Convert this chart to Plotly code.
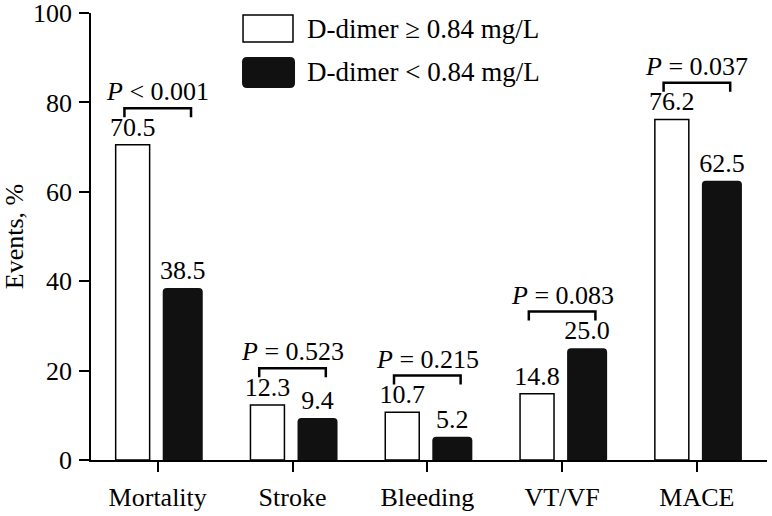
import plotly.graph_objects as go

categories = ["Mortality", "Stroke", "Bleeding", "VT/VF", "MACE"]
high_name = "D-dimer ≥ 0.84 mg/L"
low_name = "D-dimer &lt; 0.84 mg/L"
high_values = [70.5, 12.3, 10.7, 14.8, 76.2]
low_values = [38.5, 9.4, 5.2, 25.0, 62.5]
p_labels = ["<i>P</i> &lt; 0.001", "<i>P</i> = 0.523", "<i>P</i> = 0.215",
            "<i>P</i> = 0.083", "<i>P</i> = 0.037"]
y_ticks = [0, 20, 40, 60, 80, 100]

FONT = "Liberation Serif, Times New Roman, serif"
idx = list(range(len(categories)))

fig = go.Figure()
fig.add_trace(go.Bar(
    x=idx, y=high_values, width=0.252, offset=-0.312,
    marker=dict(color="white", line=dict(color="black", width=1.5)),
    text=[f"{v:.1f}" for v in high_values], textposition="outside",
    textfont=dict(family=FONT, size=26, color="black"),
    constraintext="none", cliponaxis=False, showlegend=False, name=high_name))
fig.add_trace(go.Bar(
    x=idx, y=low_values, width=0.297, offset=0.037,
    marker=dict(color="#111111", line=dict(color="#111111", width=0), cornerradius=4),
    text=[f"{v:.1f}" for v in low_values], textposition="outside",
    textfont=dict(family=FONT, size=26, color="black"),
    constraintext="none", cliponaxis=False, showlegend=False, name=low_name))

# significance brackets
for i in idx:
    top = max(high_values[i], low_values[i]) + 8.2
    xl, xr = i - 0.247, i + 0.247
    fig.add_trace(go.Scatter(
        x=[xl, xl, xr, xr], y=[top - 2.0, top, top, top - 2.0], mode="lines",
        line=dict(color="black", width=2.5), showlegend=False, hoverinfo="skip",
        cliponaxis=False))
    fig.add_annotation(x=i, y=top, xref="x", yref="y", text=p_labels[i],
                       showarrow=False, yanchor="bottom", yshift=0,
                       font=dict(family=FONT, size=26, color="black"))

# custom legend
def rounded(x0, y0, x1, y1, r_px):
    rx = r_px / 676.0
    ry = r_px / 447.0
    return (f"M {x0+rx},{y0} L {x1-rx},{y0} Q {x1},{y0} {x1},{y0+ry} "
            f"L {x1},{y1-ry} Q {x1},{y1} {x1-rx},{y1} L {x0+rx},{y1} "
            f"Q {x0},{y1} {x0},{y1-ry} L {x0},{y0+ry} Q {x0},{y0} {x0+rx},{y0} Z")

fig.add_shape(type="rect", xref="paper", yref="paper", x0=0.2249, x1=0.2988,
              y0=0.935, y1=0.9955, fillcolor="white", line=dict(color="black", width=1.5))
fig.add_shape(type="path", xref="paper", yref="paper",
              path=rounded(0.2234, 0.832, 0.3018, 0.9016, 5),
              fillcolor="#111111", line=dict(color="#111111", width=0))
fig.add_annotation(x=0.317, y=0.965, xref="paper", yref="paper", text=high_name,
                   showarrow=False, xanchor="left", yanchor="middle",
                   font=dict(family=FONT, size=27, color="black"))
fig.add_annotation(x=0.317, y=0.867, xref="paper", yref="paper", text=low_name,
                   showarrow=False, xanchor="left", yanchor="middle",
                   font=dict(family=FONT, size=27, color="black"))

fig.update_layout(
    width=772, height=516,
    margin=dict(l=91, r=5, t=13, b=56),
    plot_bgcolor="white", paper_bgcolor="white",
    barmode="overlay",
    font=dict(family=FONT, color="black"),
    xaxis=dict(range=[-0.495, 4.52], tickvals=idx, ticktext=categories,
               automargin=False, ticklabeloverflow="allow",
               showgrid=False, zeroline=False, showline=True, linecolor="black",
               linewidth=1.5, ticks="outside", ticklen=10, tickwidth=1.5,
               tickcolor="black", tickfont=dict(family=FONT, size=26),
               ticklabelstandoff=3),
    yaxis=dict(range=[0, 100], tickvals=y_ticks, showgrid=False, zeroline=False,
               automargin=False, ticklabeloverflow="allow",
               showline=True, linecolor="black", linewidth=1.5, ticks="outside",
               ticklen=10, tickwidth=1.5, tickcolor="black",
               tickfont=dict(family=FONT, size=26), ticklabelstandoff=2,
               title=dict(text="Events, %", font=dict(family=FONT, size=26), standoff=7)),
)

fig.write_html("out.html", config={"displayModeBar": False},
               post_script="document.body.style.margin='0px';")
